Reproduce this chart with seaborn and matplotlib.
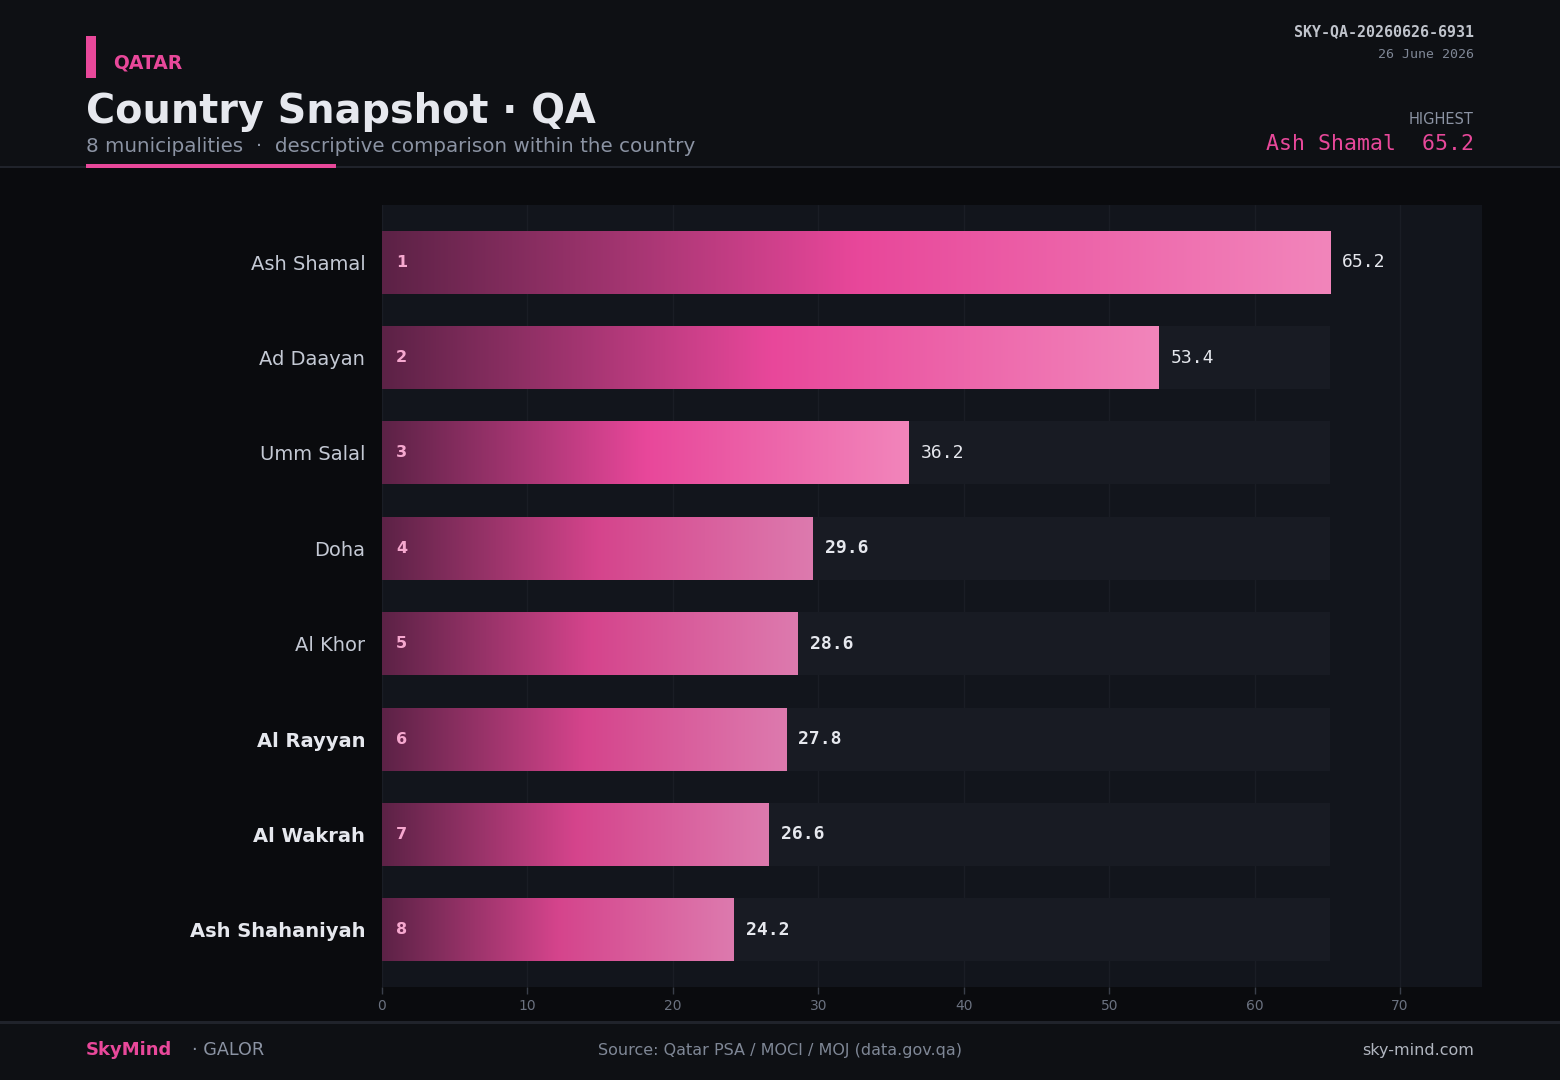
import numpy as np
import pandas as pd
import seaborn as sns
import matplotlib.pyplot as plt
from matplotlib.colors import to_rgb
from matplotlib.patches import Rectangle
from matplotlib.transforms import offset_copy

# ---------------------------------------------------------------------------
# data
municipalities = ["Ash Shamal", "Ad Daayan", "Umm Salal", "Doha", "Al Khor",
                  "Al Rayyan", "Al Wakrah", "Ash Shahaniyah"]
values = [65.2, 53.4, 36.2, 29.6, 28.6, 27.8, 26.6, 24.2]
ranks = [1, 2, 3, 4, 5, 6, 7, 8]
bold_names = ["Al Rayyan", "Al Wakrah", "Ash Shahaniyah"]
x_ticks = [0, 10, 20, 30, 40, 50, 60, 70]

df = pd.DataFrame({"Municipality": municipalities, "Value": values, "Rank": ranks})
df["Track"] = max(values)

# colours
BG_BODY = "#0a0b0e"
BG_BAND = "#0e1014"
AX_BG = "#12151c"
TRACK = "#181b23"
GRID = "#1a1d25"
PINK = "#e8489a"
MUTED = "#8b93a3"
TEXT = "#e6e8ee"

sns.set_theme(style="dark")
plt.rcParams["font.family"] = ["DejaVu Sans"]

W, H = 1560, 1080
fig = plt.figure(figsize=(15.6, 10.8), dpi=100)
fig.patch.set_facecolor(BG_BODY)


def px(x, y):
    return x / W, 1 - y / H


# header / footer bands
fig.add_artist(Rectangle((0, 1 - 166 / H), 1, 166 / H, transform=fig.transFigure,
                         facecolor=BG_BAND, edgecolor="none", zorder=0))
fig.add_artist(Rectangle((0, 1 - 168 / H), 1, 2 / H, transform=fig.transFigure,
                         facecolor="#20232b", edgecolor="none", zorder=1))
fig.add_artist(Rectangle((86 / W, 1 - 168 / H), 250 / W, 4 / H, transform=fig.transFigure,
                         facecolor=PINK, edgecolor="none", zorder=2))
fig.add_artist(Rectangle((0, 0), 1, 58 / H, transform=fig.transFigure,
                         facecolor=BG_BAND, edgecolor="none", zorder=0))
fig.add_artist(Rectangle((0, 56 / H), 1, 3 / H, transform=fig.transFigure,
                         facecolor="#20232b", edgecolor="none", zorder=1))
fig.add_artist(Rectangle((86 / W, 1 - 78 / H), 10 / W, 42 / H, transform=fig.transFigure,
                         facecolor=PINK, edgecolor="none", zorder=2))

# header texts
fig.text(*px(113, 63), "QATAR", color=PINK, fontsize=13.5, fontweight="bold", va="center")
fig.text(*px(86, 112), "Country Snapshot · QA", color=TEXT, fontsize=28.6,
         fontweight="bold", va="center")
fig.text(*px(86, 147), "8 municipalities  ·  descriptive comparison within the country",
         color=MUTED, fontsize=14.3, va="center")
fig.text(*px(1474, 32), "SKY-QA-20260626-6931", color="#c0c4cc", fontsize=10.8,
         fontweight="bold", family="DejaVu Sans Mono", ha="right", va="center")
fig.text(*px(1474, 54), "26 June 2026", color="#7f8796", fontsize=9.5,
         family="DejaVu Sans Mono", ha="right", va="center")
fig.text(*px(1474, 120), "HIGHEST", color=MUTED, fontsize=10.5, ha="right", va="center")
fig.text(*px(1474, 144), f"{municipalities[0]}  {values[0]}", color=PINK, fontsize=15.5,
         family="DejaVu Sans Mono", ha="right", va="center")

# footer texts
fig.text(*px(86, 1050), "SkyMind", color=PINK, fontsize=13, fontweight="bold", va="center")
fig.text(*px(192, 1050), "· GALOR", color=MUTED, fontsize=12.7, va="center")
fig.text(*px(780, 1051), "Source: Qatar PSA / MOCI / MOJ (data.gov.qa)", color="#7f8796",
         fontsize=11.5, ha="center", va="center")
fig.text(*px(1474, 1051), "sky-mind.com", color="#b0b5bf", fontsize=11.5,
         ha="right", va="center")

# ---------------------------------------------------------------------------
# main axes
ax = fig.add_axes([382 / W, 1 - 987 / H, 1100 / W, 782 / H])
ax.set_facecolor(AX_BG)

sns.barplot(data=df, y="Municipality", x="Track", order=municipalities, orient="h",
            color=TRACK, width=0.66, saturation=1, ax=ax, zorder=2)
sns.barplot(data=df, y="Municipality", x="Value", order=municipalities, orient="h",
            color=PINK, width=0.66, saturation=1, ax=ax, zorder=3)

for p in ax.containers[0]:
    p.set_edgecolor("none")


def gradient(stops, n=256):
    pos = [s[0] for s in stops]
    cols = np.array([to_rgb(s[1]) for s in stops])
    t = np.linspace(0, 1, n)
    rgb = np.stack([np.interp(t, pos, cols[:, i]) for i in range(3)], axis=-1)
    return rgb[np.newaxis, :, :]


grad_top = gradient([(0, "#5c2246"), (0.5, "#e8479a"), (1, "#f285bb")])
grad_rest = gradient([(0, "#5c2246"), (0.5, "#d5448c"), (1, "#dd7aae")])

for i, p in enumerate(ax.containers[1]):
    p.set_facecolor("none")
    p.set_edgecolor("none")
    x0, y0 = p.get_x(), p.get_y()
    w, h = p.get_width(), p.get_height()
    img = ax.imshow(grad_top if i < 3 else grad_rest, extent=(x0, x0 + w, y0 + h, y0),
                    aspect="auto", interpolation="bicubic", zorder=3)
    img.set_clip_path(p)

    # value label
    ax.text(x0 + w, y0 + h / 2, f"{values[i]}",
            transform=offset_copy(ax.transData, fig=fig, x=12, y=0, units="dots"),
            color=TEXT, fontsize=13, family="DejaVu Sans Mono",
            fontweight="normal" if i < 3 else "bold", va="center", ha="left", zorder=5)
    # rank label
    ax.text(x0, y0 + h / 2, str(ranks[i]),
            transform=offset_copy(ax.transData, fig=fig, x=14, y=0, units="dots"),
            color="#f6a8cf", fontsize=11.5, fontweight="bold", va="center", ha="left",
            zorder=5)

ax.set_xlim(0, max(values) * 1.16)
ax.set_ylim(len(municipalities) - 0.4, -0.6)
ax.set_xticks(x_ticks)
ax.set_xticklabels([str(t) for t in x_ticks])
ax.grid(axis="x", color=GRID, linewidth=1, zorder=1)
ax.grid(axis="y", visible=False)
ax.set_axisbelow(True)
for s in ax.spines.values():
    s.set_visible(False)

ax.tick_params(axis="x", colors="#3a3f4a", labelcolor="#6b7280", labelsize=10,
               length=5, width=1, bottom=True, pad=4)
ax.tick_params(axis="y", length=0, pad=12, labelsize=14)
for lab in ax.get_yticklabels():
    if lab.get_text() in bold_names:
        lab.set_fontweight("bold")
        lab.set_color(TEXT)
    else:
        lab.set_color("#c4c9d4")
ax.set(xlabel=None, ylabel=None)

plt.savefig("out.png", dpi=100, facecolor=fig.get_facecolor())
